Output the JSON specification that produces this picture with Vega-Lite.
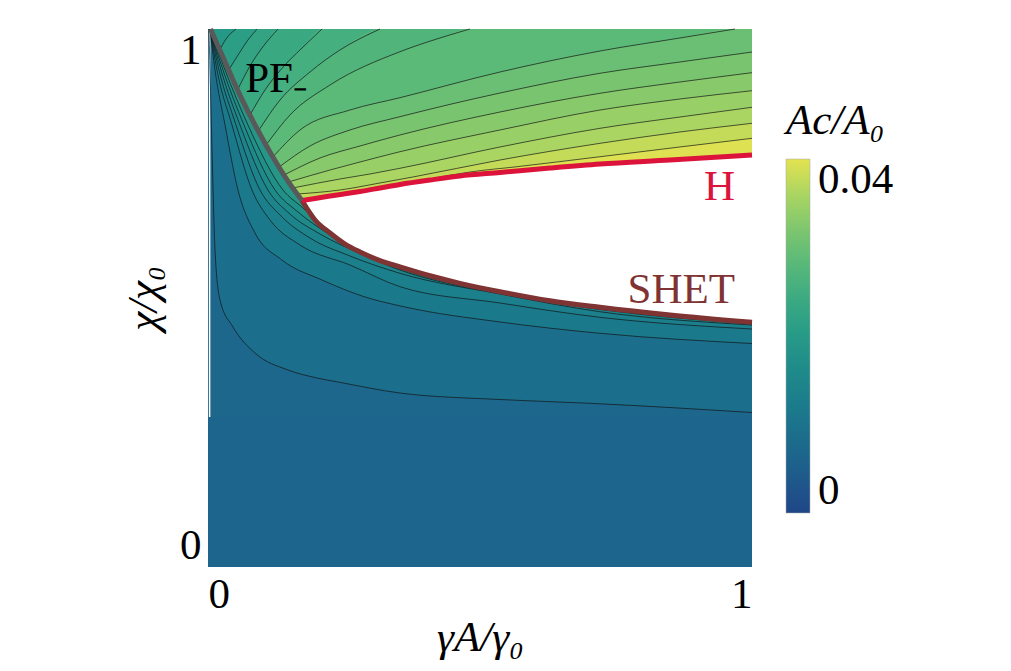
{
  "$schema": "https://vega.github.io/schema/vega-lite/v6.json",
  "width": 544,
  "height": 538,
  "autosize": "none",
  "padding": {"left": 208, "top": 29, "right": 259, "bottom": 104},
  "config": {
    "view": {"stroke": null},
    "font": "Liberation Serif",
    "axis": {"domain": false, "ticks": false, "grid": false, "labelFont": "Liberation Serif", "titleFont": "Liberation Serif", "labelFontSize": 43, "titleFontSize": 43, "labelColor": "black", "titleColor": "black", "titleFontWeight": "normal", "titleFontStyle": "italic"}
  },
  "datasets": {
    "upper": [
      {"s":"u00","g":0,"c":1,"v":0.0195,"k":0},{"s":"u00","g":1,"c":1,"v":0.0195,"k":0},
      {"s":"u01","g":0.0215,"c":0.961,"v":0.021,"k":1},{"s":"u01","g":0.0331,"c":0.9814,"v":0.021,"k":1},{"s":"u01","g":0.0515,"c":1,"v":0.021,"k":1},{"s":"u01","g":1,"c":1,"v":0.021,"k":0},
      {"s":"u02","g":0.0381,"c":0.9238,"v":0.0225,"k":1},{"s":"u02","g":0.0588,"c":0.9572,"v":0.0225,"k":1},{"s":"u02","g":0.0735,"c":0.9796,"v":0.0225,"k":1},{"s":"u02","g":0.0901,"c":1,"v":0.0225,"k":1},{"s":"u02","g":1,"c":1,"v":0.0225,"k":0},
      {"s":"u03","g":0.0542,"c":0.8866,"v":0.024,"k":1},{"s":"u03","g":0.0772,"c":0.9312,"v":0.024,"k":1},{"s":"u03","g":0.0993,"c":0.9647,"v":0.024,"k":1},{"s":"u03","g":0.1287,"c":1,"v":0.024,"k":1},{"s":"u03","g":1,"c":1,"v":0.024,"k":0},
      {"s":"u04","g":0.0772,"c":0.8401,"v":0.0255,"k":1},{"s":"u04","g":0.1048,"c":0.8866,"v":0.0255,"k":1},{"s":"u04","g":0.1415,"c":0.9331,"v":0.0255,"k":1},{"s":"u04","g":0.1691,"c":0.961,"v":0.0255,"k":1},{"s":"u04","g":0.2096,"c":1,"v":0.0255,"k":1},{"s":"u04","g":1,"c":1,"v":0.0255,"k":0},
      {"s":"u05","g":0.0925,"c":0.8104,"v":0.027,"k":1},{"s":"u05","g":0.1324,"c":0.868,"v":0.027,"k":1},{"s":"u05","g":0.1875,"c":0.9201,"v":0.027,"k":1},{"s":"u05","g":0.2426,"c":0.961,"v":0.027,"k":1},{"s":"u05","g":0.3162,"c":1,"v":0.027,"k":1},{"s":"u05","g":1,"c":1,"v":0.027,"k":0},
      {"s":"u06","g":0.1068,"c":0.7844,"v":0.0285,"k":1},{"s":"u06","g":0.1507,"c":0.8401,"v":0.0285,"k":1},{"s":"u06","g":0.2243,"c":0.8959,"v":0.0285,"k":1},{"s":"u06","g":0.3529,"c":0.9578,"v":0.0285,"k":1},{"s":"u06","g":0.4265,"c":0.9833,"v":0.0285,"k":1},{"s":"u06","g":0.4816,"c":1,"v":0.0285,"k":1},{"s":"u06","g":1,"c":1,"v":0.0285,"k":0},
      {"s":"u07","g":0.1193,"c":0.7621,"v":0.03,"k":1},{"s":"u07","g":0.1691,"c":0.8123,"v":0.03,"k":1},{"s":"u07","g":0.261,"c":0.8494,"v":0.03,"k":1},{"s":"u07","g":0.3529,"c":0.8723,"v":0.03,"k":1},{"s":"u07","g":0.5368,"c":0.9201,"v":0.03,"k":1},{"s":"u07","g":0.7206,"c":0.9591,"v":0.03,"k":1},{"s":"u07","g":0.8676,"c":0.9833,"v":0.03,"k":1},{"s":"u07","g":0.9688,"c":1,"v":0.03,"k":1},{"s":"u07","g":1,"c":1,"v":0.03,"k":0},
      {"s":"u08","g":0.1309,"c":0.7435,"v":0.0315,"k":1},{"s":"u08","g":0.1875,"c":0.7825,"v":0.0315,"k":1},{"s":"u08","g":0.261,"c":0.8123,"v":0.0315,"k":1},{"s":"u08","g":0.3529,"c":0.837,"v":0.0315,"k":1},{"s":"u08","g":0.5368,"c":0.881,"v":0.0315,"k":1},{"s":"u08","g":0.7206,"c":0.9177,"v":0.0315,"k":1},{"s":"u08","g":0.8676,"c":0.9387,"v":0.0315,"k":1},{"s":"u08","g":1,"c":0.9572,"v":0.0315,"k":1},
      {"s":"u09","g":0.1399,"c":0.7286,"v":0.033,"k":1},{"s":"u09","g":0.2059,"c":0.7602,"v":0.033,"k":1},{"s":"u09","g":0.2794,"c":0.7825,"v":0.033,"k":1},{"s":"u09","g":0.3529,"c":0.803,"v":0.033,"k":1},{"s":"u09","g":0.5368,"c":0.8457,"v":0.033,"k":1},{"s":"u09","g":0.7206,"c":0.8805,"v":0.033,"k":1},{"s":"u09","g":0.8676,"c":0.9015,"v":0.033,"k":1},{"s":"u09","g":1,"c":0.9188,"v":0.033,"k":1},
      {"s":"u10","g":0.148,"c":0.7156,"v":0.0345,"k":1},{"s":"u10","g":0.2243,"c":0.7379,"v":0.0345,"k":1},{"s":"u10","g":0.2794,"c":0.7528,"v":0.0345,"k":1},{"s":"u10","g":0.3529,"c":0.7719,"v":0.0345,"k":1},{"s":"u10","g":0.5368,"c":0.8123,"v":0.0345,"k":1},{"s":"u10","g":0.7206,"c":0.8494,"v":0.0345,"k":1},{"s":"u10","g":0.8676,"c":0.8699,"v":0.0345,"k":1},{"s":"u10","g":1,"c":0.8853,"v":0.0345,"k":1},
      {"s":"u11","g":0.1561,"c":0.7045,"v":0.036,"k":1},{"s":"u11","g":0.2426,"c":0.7212,"v":0.036,"k":1},{"s":"u11","g":0.2978,"c":0.7305,"v":0.036,"k":1},{"s":"u11","g":0.3529,"c":0.7411,"v":0.036,"k":1},{"s":"u11","g":0.5368,"c":0.7807,"v":0.036,"k":1},{"s":"u11","g":0.7206,"c":0.8154,"v":0.036,"k":1},{"s":"u11","g":0.8676,"c":0.8364,"v":0.036,"k":1},{"s":"u11","g":1,"c":0.8545,"v":0.036,"k":1},
      {"s":"u12","g":0.1642,"c":0.6933,"v":0.0378,"k":1},{"s":"u12","g":0.2426,"c":0.7007,"v":0.0378,"k":1},{"s":"u12","g":0.3162,"c":0.7138,"v":0.0378,"k":1},{"s":"u12","g":0.3768,"c":0.7249,"v":0.0378,"k":1},{"s":"u12","g":0.5368,"c":0.7565,"v":0.0378,"k":1},{"s":"u12","g":0.7206,"c":0.7875,"v":0.0378,"k":1},{"s":"u12","g":0.8676,"c":0.8086,"v":0.0378,"k":1},{"s":"u12","g":1,"c":0.8247,"v":0.0378,"k":1},
      {"s":"u13","g":0.4081,"c":0.7212,"v":0.0396,"k":1},{"s":"u13","g":0.4816,"c":0.7342,"v":0.0396,"k":1},{"s":"u13","g":0.568,"c":0.744,"v":0.0396,"k":1},{"s":"u13","g":0.7206,"c":0.7626,"v":0.0396,"k":1},{"s":"u13","g":0.8676,"c":0.7807,"v":0.0396,"k":1},{"s":"u13","g":1,"c":0.7968,"v":0.0396,"k":1}
    ],
    "lower": [
      {"s":"l00","g":0,"c":1,"v":0.019,"k":0},{"s":"l00","g":0.0046,"c":1,"v":0.019,"k":0},{"s":"l00","g":0.0313,"c":0.9392,"v":0.019,"k":0},{"s":"l00","g":0.0557,"c":0.8835,"v":0.019,"k":0},{"s":"l00","g":0.0864,"c":0.8216,"v":0.019,"k":0},{"s":"l00","g":0.1171,"c":0.7658,"v":0.019,"k":0},{"s":"l00","g":0.1476,"c":0.7162,"v":0.019,"k":0},{"s":"l00","g":0.1728,"c":0.6812,"v":0.019,"k":0},{"s":"l00","g":0.1967,"c":0.645,"v":0.019,"k":0},{"s":"l00","g":0.2243,"c":0.6208,"v":0.019,"k":0},{"s":"l00","g":0.2518,"c":0.6002,"v":0.019,"k":0},{"s":"l00","g":0.2794,"c":0.5855,"v":0.019,"k":0},{"s":"l00","g":0.3162,"c":0.5695,"v":0.019,"k":0},{"s":"l00","g":0.3529,"c":0.5578,"v":0.019,"k":0},{"s":"l00","g":0.4081,"c":0.5413,"v":0.019,"k":0},{"s":"l00","g":0.4632,"c":0.5273,"v":0.019,"k":0},{"s":"l00","g":0.5368,"c":0.5117,"v":0.019,"k":0},{"s":"l00","g":0.6287,"c":0.4948,"v":0.019,"k":0},{"s":"l00","g":0.7206,"c":0.4827,"v":0.019,"k":0},{"s":"l00","g":0.8493,"c":0.4684,"v":0.019,"k":0},{"s":"l00","g":1,"c":0.4548,"v":0.019,"k":0},
      {"s":"l01","g":0,"c":1,"v":0.0175,"k":0},{"s":"l01","g":0.0037,"c":1,"v":0.0175,"k":1},{"s":"l01","g":0.0313,"c":0.9238,"v":0.0175,"k":1},{"s":"l01","g":0.0735,"c":0.8216,"v":0.0175,"k":1},{"s":"l01","g":0.1379,"c":0.7007,"v":0.0175,"k":1},{"s":"l01","g":0.1746,"c":0.6673,"v":0.0175,"k":1},{"s":"l01","g":0.2243,"c":0.6208,"v":0.0175,"k":1},{"s":"l01","g":0.2794,"c":0.5844,"v":0.0175,"k":1},{"s":"l01","g":0.3529,"c":0.5558,"v":0.0175,"k":1},{"s":"l01","g":0.5368,"c":0.5106,"v":0.0175,"k":1},{"s":"l01","g":0.7206,"c":0.4814,"v":0.0175,"k":1},{"s":"l01","g":1,"c":0.4537,"v":0.0175,"k":1},
      {"s":"l02","g":0,"c":1,"v":0.016,"k":0},{"s":"l02","g":0.0037,"c":1,"v":0.016,"k":1},{"s":"l02","g":0.0276,"c":0.9238,"v":0.016,"k":1},{"s":"l02","g":0.0662,"c":0.8216,"v":0.016,"k":1},{"s":"l02","g":0.1232,"c":0.7007,"v":0.016,"k":1},{"s":"l02","g":0.1654,"c":0.6599,"v":0.016,"k":1},{"s":"l02","g":0.2243,"c":0.6171,"v":0.016,"k":1},{"s":"l02","g":0.2794,"c":0.5836,"v":0.016,"k":1},{"s":"l02","g":0.3529,"c":0.5543,"v":0.016,"k":1},{"s":"l02","g":0.5368,"c":0.5097,"v":0.016,"k":1},{"s":"l02","g":0.7206,"c":0.4805,"v":0.016,"k":1},{"s":"l02","g":1,"c":0.453,"v":0.016,"k":1},
      {"s":"l03","g":0,"c":1,"v":0.0145,"k":0},{"s":"l03","g":0.0037,"c":1,"v":0.0145,"k":1},{"s":"l03","g":0.0239,"c":0.9238,"v":0.0145,"k":1},{"s":"l03","g":0.0588,"c":0.8216,"v":0.0145,"k":1},{"s":"l03","g":0.1103,"c":0.7007,"v":0.0145,"k":1},{"s":"l03","g":0.1507,"c":0.6561,"v":0.0145,"k":1},{"s":"l03","g":0.2059,"c":0.619,"v":0.0145,"k":1},{"s":"l03","g":0.2794,"c":0.5827,"v":0.0145,"k":1},{"s":"l03","g":0.3529,"c":0.552,"v":0.0145,"k":1},{"s":"l03","g":0.5368,"c":0.5084,"v":0.0145,"k":1},{"s":"l03","g":0.7206,"c":0.4786,"v":0.0145,"k":1},{"s":"l03","g":1,"c":0.4517,"v":0.0145,"k":1},
      {"s":"l04","g":0,"c":1,"v":0.013,"k":0},{"s":"l04","g":0.0037,"c":1,"v":0.013,"k":1},{"s":"l04","g":0.0202,"c":0.9238,"v":0.013,"k":1},{"s":"l04","g":0.0515,"c":0.8216,"v":0.013,"k":1},{"s":"l04","g":0.0956,"c":0.7007,"v":0.013,"k":1},{"s":"l04","g":0.1324,"c":0.6543,"v":0.013,"k":1},{"s":"l04","g":0.1875,"c":0.6115,"v":0.013,"k":1},{"s":"l04","g":0.261,"c":0.5781,"v":0.013,"k":1},{"s":"l04","g":0.3529,"c":0.5459,"v":0.013,"k":1},{"s":"l04","g":0.5368,"c":0.5074,"v":0.013,"k":1},{"s":"l04","g":0.7206,"c":0.4745,"v":0.013,"k":1},{"s":"l04","g":1,"c":0.4498,"v":0.013,"k":1},
      {"s":"l05","g":0,"c":1,"v":0.0115,"k":0},{"s":"l05","g":0.0037,"c":1,"v":0.0115,"k":1},{"s":"l05","g":0.0165,"c":0.9238,"v":0.0115,"k":1},{"s":"l05","g":0.0441,"c":0.8216,"v":0.0115,"k":1},{"s":"l05","g":0.0809,"c":0.7007,"v":0.0115,"k":1},{"s":"l05","g":0.114,"c":0.645,"v":0.0115,"k":1},{"s":"l05","g":0.1691,"c":0.5985,"v":0.0115,"k":1},{"s":"l05","g":0.261,"c":0.5613,"v":0.0115,"k":1},{"s":"l05","g":0.3529,"c":0.521,"v":0.0115,"k":1},{"s":"l05","g":0.5368,"c":0.4907,"v":0.0115,"k":1},{"s":"l05","g":0.7206,"c":0.4641,"v":0.0115,"k":1},{"s":"l05","g":1,"c":0.4424,"v":0.0115,"k":1},
      {"s":"l06","g":0,"c":1,"v":0.009,"k":0},{"s":"l06","g":0.0037,"c":1,"v":0.009,"k":1},{"s":"l06","g":0.0129,"c":0.9238,"v":0.009,"k":1},{"s":"l06","g":0.0313,"c":0.8216,"v":0.009,"k":1},{"s":"l06","g":0.0551,"c":0.7007,"v":0.009,"k":1},{"s":"l06","g":0.0864,"c":0.6208,"v":0.009,"k":1},{"s":"l06","g":0.136,"c":0.5706,"v":0.009,"k":1},{"s":"l06","g":0.2096,"c":0.5335,"v":0.009,"k":1},{"s":"l06","g":0.2886,"c":0.5019,"v":0.009,"k":1},{"s":"l06","g":0.3621,"c":0.4833,"v":0.009,"k":1},{"s":"l06","g":0.5368,"c":0.4554,"v":0.009,"k":1},{"s":"l06","g":0.7206,"c":0.4344,"v":0.009,"k":1},{"s":"l06","g":1,"c":0.4154,"v":0.009,"k":1},
      {"s":"l07","g":0,"c":1,"v":0.007,"k":0},{"s":"l07","g":0.0018,"c":1,"v":0.007,"k":1},{"s":"l07","g":0.0074,"c":0.7751,"v":0.007,"k":1},{"s":"l07","g":0.0129,"c":0.5892,"v":0.007,"k":1},{"s":"l07","g":0.0221,"c":0.4963,"v":0.007,"k":1},{"s":"l07","g":0.046,"c":0.4461,"v":0.007,"k":1},{"s":"l07","g":0.0864,"c":0.3978,"v":0.007,"k":1},{"s":"l07","g":0.1471,"c":0.3662,"v":0.007,"k":1},{"s":"l07","g":0.2004,"c":0.3513,"v":0.007,"k":1},{"s":"l07","g":0.239,"c":0.3439,"v":0.007,"k":1},{"s":"l07","g":0.3529,"c":0.3234,"v":0.007,"k":1},{"s":"l07","g":0.5368,"c":0.3113,"v":0.007,"k":1},{"s":"l07","g":0.7022,"c":0.3043,"v":0.007,"k":1},{"s":"l07","g":1,"c":0.2872,"v":0.007,"k":1},
      {"s":"l08","g":0,"c":0.2788,"v":0.0065,"k":0},{"s":"l08","g":1,"c":0.2788,"v":0.0065,"k":0}
    ],
    "gap": [
      {"g":0.1728,"h":0.6812,"sh":0.6812},{"g":0.1967,"h":0.6849,"sh":0.645},{"g":0.2243,"h":0.6896,"sh":0.6208},{"g":0.2518,"h":0.6937,"sh":0.6002},{"g":0.2794,"h":0.698,"sh":0.5855},{"g":0.3162,"h":0.7045,"sh":0.5695},{"g":0.3529,"h":0.711,"sh":0.5578},{"g":0.4081,"h":0.7193,"sh":0.5413},{"g":0.4632,"h":0.7268,"sh":0.5273},{"g":0.5368,"h":0.7333,"sh":0.5117},{"g":0.6287,"h":0.7416,"sh":0.4948},{"g":0.7206,"h":0.7491,"sh":0.4827},{"g":0.8493,"h":0.7565,"sh":0.4684},{"g":1,"h":0.7658,"sh":0.4548}
    ],
    "pf": [
      {"g":0.0046,"c":1},{"g":0.0313,"c":0.9392},{"g":0.0557,"c":0.8835},{"g":0.0864,"c":0.8216},{"g":0.1171,"c":0.7658},{"g":0.1476,"c":0.7162},{"g":0.1728,"c":0.6812}
    ],
    "stripe": [{"g":0.003,"c":0.2788,"c2":1}],
    "labels": [
      {"t":"PF₋","g":0.1838,"c":0.8829,"col":"black"},
      {"t":"H","g":0.9688,"c":0.6822,"col":"#dc143c"},
      {"t":"SHET","g":0.9688,"c":0.4907,"col":"#7f3333"}
    ]
  },
  "layer": [
    {
      "data": {"name": "upper"},
      "mark": {"type": "area", "interpolate": "monotone"},
      "encoding": {
        "x": {"field": "g", "type": "quantitative", "scale": {"domain": [0, 1], "nice": false, "zero": false}, "axis": {"title": "γA/γ₀", "values": [0, 1], "format": "~g", "labelFlush": true, "labelPadding": 6, "titlePadding": 0}},
        "y": {"field": "c", "type": "quantitative", "stack": null, "scale": {"domain": [0, 1], "nice": false}, "axis": {"title": "χ/χ₀", "values": [0, 1], "format": "~g", "labelFlush": true, "labelPadding": 7, "titlePadding": 14}},
        "detail": {"field": "s", "type": "nominal"},
        "color": {"field": "v", "type": "quantitative", "scale": {"domain": [0, 0.04], "interpolate": "rgb", "range": ["#1f4687", "#1e5a8b", "#1c6b8c", "#1b7b8c", "#1e8a8a", "#279a87", "#3aa982", "#57b879", "#7dc66e", "#aad562", "#e3e250"]},
          "legend": {"orient": "none", "legendX": 572, "legendY": 65, "direction": "vertical", "values": [0, 0.04], "format": "~g", "title": "Ac/A₀", "titleFont": "Liberation Serif", "titleFontSize": 43, "titleFontWeight": "normal", "titleFontStyle": "italic", "titleColor": "black", "titlePadding": 16, "labelFont": "Liberation Serif", "labelFontSize": 43, "labelColor": "black", "labelOffset": 8, "gradientLength": 354, "gradientThickness": 24, "gradientStrokeColor": "#aaaaaa", "gradientStrokeWidth": 0.5, "padding": 6}}
      }
    },
    {
      "data": {"name": "lower"},
      "mark": {"type": "area", "interpolate": "monotone"},
      "encoding": {
        "x": {"field": "g", "type": "quantitative", "scale": {"domain": [0, 1], "nice": false, "zero": false}, "axis": {"title": "γA/γ₀", "values": [0, 1], "format": "~g", "labelFlush": true, "labelPadding": 6, "titlePadding": 0}},
        "y": {"field": "c", "type": "quantitative", "stack": null, "scale": {"domain": [0, 1], "nice": false}, "axis": {"title": "χ/χ₀", "values": [0, 1], "format": "~g", "labelFlush": true, "labelPadding": 7, "titlePadding": 14}},
        "detail": {"field": "s", "type": "nominal"},
        "color": {"field": "v", "type": "quantitative", "scale": {"domain": [0, 0.04], "interpolate": "rgb", "range": ["#1f4687", "#1e5a8b", "#1c6b8c", "#1b7b8c", "#1e8a8a", "#279a87", "#3aa982", "#57b879", "#7dc66e", "#aad562", "#e3e250"]}, "legend": null}
      }
    },
    {
      "data": {"name": "gap"},
      "mark": {"type": "area", "interpolate": "monotone", "color": "white"},
      "encoding": {
        "x": {"field": "g", "type": "quantitative", "scale": {"domain": [0, 1], "nice": false, "zero": false}, "axis": {"title": "γA/γ₀", "values": [0, 1], "format": "~g", "labelFlush": true, "labelPadding": 6, "titlePadding": 0}},
        "y": {"field": "h", "type": "quantitative", "stack": null, "scale": {"domain": [0, 1], "nice": false}, "axis": {"title": "χ/χ₀", "values": [0, 1], "format": "~g", "labelFlush": true, "labelPadding": 7, "titlePadding": 14}},
        "y2": {"field": "sh"}
      }
    },
    {
      "data": {"name": "stripe"},
      "mark": {"type": "rule", "color": "white", "strokeWidth": 1.5},
      "encoding": {
        "x": {"field": "g", "type": "quantitative", "scale": {"domain": [0, 1], "nice": false, "zero": false}, "axis": {"title": "γA/γ₀", "values": [0, 1], "format": "~g", "labelFlush": true, "labelPadding": 6, "titlePadding": 0}},
        "y": {"field": "c", "type": "quantitative", "scale": {"domain": [0, 1], "nice": false}, "axis": {"title": "χ/χ₀", "values": [0, 1], "format": "~g", "labelFlush": true, "labelPadding": 7, "titlePadding": 14}},
        "y2": {"field": "c2"}
      }
    },
    {
      "data": {"name": "upper"},
      "transform": [{"filter": "datum.k == 1"}],
      "mark": {"type": "line", "interpolate": "monotone", "color": "#111111", "strokeWidth": 0.8, "opacity": 0.85},
      "encoding": {
        "x": {"field": "g", "type": "quantitative", "scale": {"domain": [0, 1], "nice": false, "zero": false}, "axis": {"title": "γA/γ₀", "values": [0, 1], "format": "~g", "labelFlush": true, "labelPadding": 6, "titlePadding": 0}},
        "y": {"field": "c", "type": "quantitative", "scale": {"domain": [0, 1], "nice": false}, "axis": {"title": "χ/χ₀", "values": [0, 1], "format": "~g", "labelFlush": true, "labelPadding": 7, "titlePadding": 14}},
        "detail": {"field": "s", "type": "nominal"}
      }
    },
    {
      "data": {"name": "lower"},
      "transform": [{"filter": "datum.k == 1"}],
      "mark": {"type": "line", "interpolate": "monotone", "color": "#111111", "strokeWidth": 0.8, "opacity": 0.85},
      "encoding": {
        "x": {"field": "g", "type": "quantitative", "scale": {"domain": [0, 1], "nice": false, "zero": false}, "axis": {"title": "γA/γ₀", "values": [0, 1], "format": "~g", "labelFlush": true, "labelPadding": 6, "titlePadding": 0}},
        "y": {"field": "c", "type": "quantitative", "scale": {"domain": [0, 1], "nice": false}, "axis": {"title": "χ/χ₀", "values": [0, 1], "format": "~g", "labelFlush": true, "labelPadding": 7, "titlePadding": 14}},
        "detail": {"field": "s", "type": "nominal"}
      }
    },
    {
      "data": {"name": "gap"},
      "mark": {"type": "line", "interpolate": "monotone", "color": "#7f3333", "strokeWidth": 5},
      "encoding": {
        "x": {"field": "g", "type": "quantitative", "scale": {"domain": [0, 1], "nice": false, "zero": false}, "axis": {"title": "γA/γ₀", "values": [0, 1], "format": "~g", "labelFlush": true, "labelPadding": 6, "titlePadding": 0}},
        "y": {"field": "sh", "type": "quantitative", "scale": {"domain": [0, 1], "nice": false}, "axis": {"title": "χ/χ₀", "values": [0, 1], "format": "~g", "labelFlush": true, "labelPadding": 7, "titlePadding": 14}}
      }
    },
    {
      "data": {"name": "gap"},
      "mark": {"type": "line", "interpolate": "monotone", "color": "#dc143c", "strokeWidth": 5},
      "encoding": {
        "x": {"field": "g", "type": "quantitative", "scale": {"domain": [0, 1], "nice": false, "zero": false}, "axis": {"title": "γA/γ₀", "values": [0, 1], "format": "~g", "labelFlush": true, "labelPadding": 6, "titlePadding": 0}},
        "y": {"field": "h", "type": "quantitative", "scale": {"domain": [0, 1], "nice": false}, "axis": {"title": "χ/χ₀", "values": [0, 1], "format": "~g", "labelFlush": true, "labelPadding": 7, "titlePadding": 14}}
      }
    },
    {
      "data": {"name": "pf"},
      "mark": {"type": "line", "interpolate": "monotone", "color": "#595959", "strokeWidth": 5},
      "encoding": {
        "x": {"field": "g", "type": "quantitative", "scale": {"domain": [0, 1], "nice": false, "zero": false}, "axis": {"title": "γA/γ₀", "values": [0, 1], "format": "~g", "labelFlush": true, "labelPadding": 6, "titlePadding": 0}},
        "y": {"field": "c", "type": "quantitative", "scale": {"domain": [0, 1], "nice": false}, "axis": {"title": "χ/χ₀", "values": [0, 1], "format": "~g", "labelFlush": true, "labelPadding": 7, "titlePadding": 14}}
      }
    },
    {
      "data": {"name": "labels"},
      "mark": {"type": "text", "align": "right", "baseline": "alphabetic", "font": "Liberation Serif", "fontSize": 43},
      "encoding": {
        "x": {"field": "g", "type": "quantitative", "scale": {"domain": [0, 1], "nice": false, "zero": false}, "axis": {"title": "γA/γ₀", "values": [0, 1], "format": "~g", "labelFlush": true, "labelPadding": 6, "titlePadding": 0}},
        "y": {"field": "c", "type": "quantitative", "scale": {"domain": [0, 1], "nice": false}, "axis": {"title": "χ/χ₀", "values": [0, 1], "format": "~g", "labelFlush": true, "labelPadding": 7, "titlePadding": 14}},
        "text": {"field": "t"},
        "color": {"field": "col", "type": "nominal", "scale": null}
      }
    }
  ]
}
